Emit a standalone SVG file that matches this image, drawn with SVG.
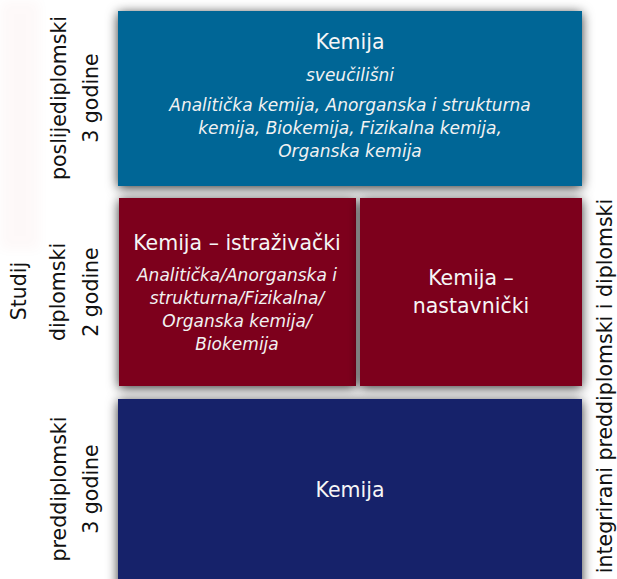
<svg xmlns="http://www.w3.org/2000/svg" width="617" height="579" viewBox="0 0 617 579">
  <style>
    .lbl { font-family: "DejaVu Sans", Verdana, sans-serif; font-size: 20.5px; fill: #111111; text-anchor: middle; }
    .title { font-family: "DejaVu Sans", Verdana, sans-serif; font-size: 20.5px; fill: #f6f6f6; text-anchor: middle; }
    .sub { font-family: "DejaVu Sans", Verdana, sans-serif; font-size: 17px; font-style: italic; fill: #f2f2f2; text-anchor: middle; }
  </style>
  <defs>
    <filter id="shadow" x="-20%" y="-20%" width="140%" height="140%">
      <feGaussianBlur in="SourceAlpha" stdDeviation="6"/>
      <feOffset dx="0" dy="2" result="b"/>
      <feFlood flood-color="#000000" flood-opacity="0.8"/>
      <feComposite in2="b" operator="in"/>
      <feMerge>
        <feMergeNode/>
        <feMergeNode in="SourceGraphic"/>
      </feMerge>
    </filter>
    <filter id="soft" x="-50%" y="-50%" width="200%" height="200%">
      <feGaussianBlur stdDeviation="6"/>
    </filter>
  </defs>
  <rect width="617" height="579" fill="#ffffff"/>
  <rect x="0" y="0" width="40" height="250" fill="#c00000" opacity="0.025" filter="url(#soft)"/>

  <g id="labels">
    <text class="lbl" transform="translate(26,291) rotate(-90)">Studij</text>
    <g id="label-poslijediplomski">
      <text class="lbl" transform="translate(66,98) rotate(-90)">poslijediplomski</text>
      <text class="lbl" transform="translate(98,98) rotate(-90)">3 godine</text>
    </g>
    <g id="label-diplomski">
      <text class="lbl" transform="translate(65,292) rotate(-90)">diplomski</text>
      <text class="lbl" transform="translate(98,292) rotate(-90)">2 godine</text>
    </g>
    <g id="label-preddiplomski">
      <text class="lbl" transform="translate(66,489) rotate(-90)">preddiplomski</text>
      <text class="lbl" transform="translate(98,489) rotate(-90)">3 godine</text>
    </g>
    <text class="lbl" transform="translate(612,386) rotate(-90)">integrirani preddiplomski i diplomski</text>
  </g>

  <g id="node-poslijediplomski">
    <rect x="118" y="11" width="464" height="175" fill="#006696" filter="url(#shadow)"/>
    <text class="title" x="350" y="49">Kemija</text>
    <text class="sub" x="350" y="81">sveučilišni</text>
    <text class="sub" x="350" y="111">Analitička kemija, Anorganska i strukturna</text>
    <text class="sub" x="350" y="134">kemija, Biokemija, Fizikalna kemija,</text>
    <text class="sub" x="350" y="157">Organska kemija</text>
  </g>

  <g id="node-istrazivacki">
    <rect x="119" y="198" width="237" height="188" fill="#7d001e" filter="url(#shadow)"/>
    <text class="title" x="237" y="250">Kemija – istraživački</text>
    <text class="sub" x="237" y="281">Analitička/Anorganska i</text>
    <text class="sub" x="237" y="304">strukturna/Fizikalna/</text>
    <text class="sub" x="237" y="327">Organska kemija/</text>
    <text class="sub" x="237" y="350">Biokemija</text>
  </g>

  <g id="node-nastavnicki">
    <rect x="360" y="198" width="222" height="188" fill="#7d001e" filter="url(#shadow)"/>
    <text class="title" x="471" y="285">Kemija –</text>
    <text class="title" x="471" y="313">nastavnički</text>
  </g>

  <g id="node-preddiplomski">
    <rect x="118" y="399" width="464" height="190" fill="#12236a" filter="url(#shadow)"/>
    <text class="title" x="350" y="497">Kemija</text>
  </g>

  <g id="connectors"></g>
</svg>
